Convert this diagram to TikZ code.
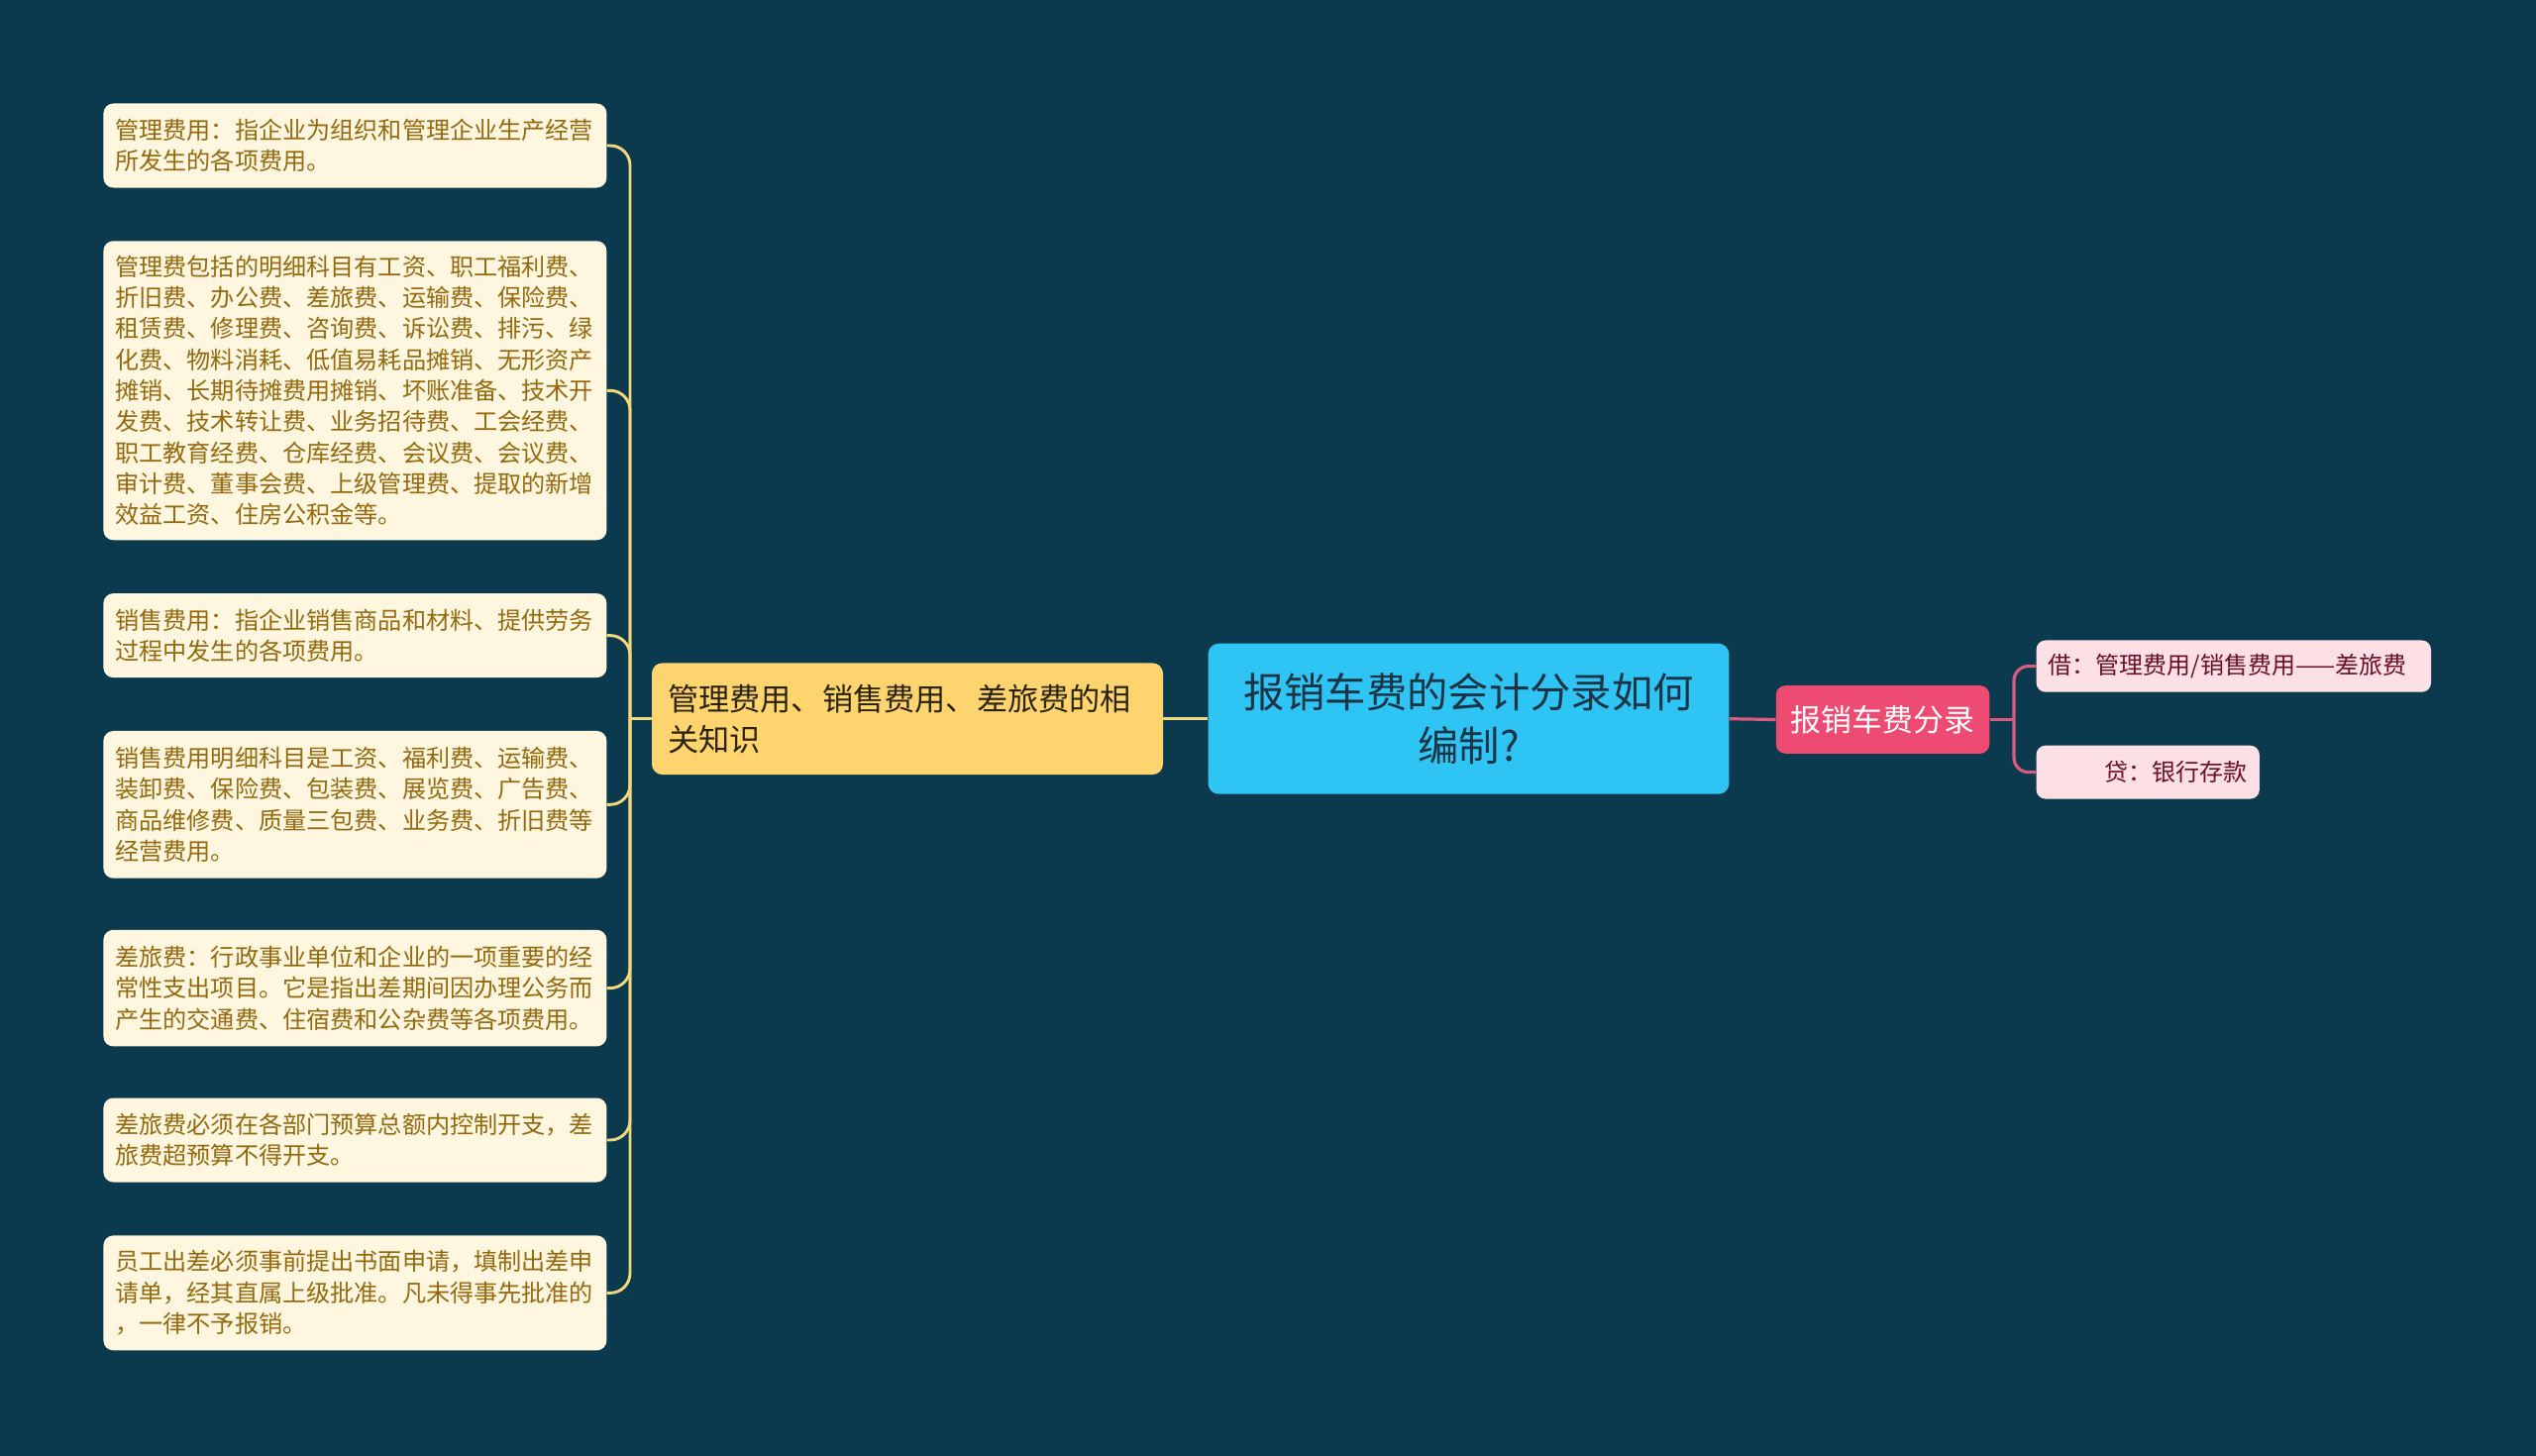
\documentclass[tikz,border=0pt]{standalone}
\usepackage{fontspec}
\setmainfont{Noto Sans CJK SC}
\definecolor{bgc}{HTML}{0B3A4E}
\definecolor{leafc}{HTML}{FEF6DE}
\definecolor{leaftxt}{HTML}{94690F}
\definecolor{yline}{HTML}{F3D77C}
\definecolor{yboxc}{HTML}{FED46E}
\definecolor{yboxtxt}{HTML}{2B2410}
\definecolor{bluec}{HTML}{2EC5F4}
\definecolor{bluetxt}{HTML}{1C3445}
\definecolor{pinkc}{HTML}{EE4B73}
\definecolor{pline}{HTML}{D95C80}
\definecolor{rleafc}{HTML}{FDE0E6}
\definecolor{rleaftxt}{HTML}{6B0F24}
\begin{document}
\begin{tikzpicture}[x=0.75pt,y=-0.75pt,
  leaf/.style={fill=leafc, rounded corners=7.5pt, text=leaftxt,
    font=\fontsize{18.1}{23.5}\selectfont, text width=363pt, align=left,
    inner xsep=9pt, inner ysep=0pt, minimum width=381pt},
  rleaf/.style={fill=rleafc, rounded corners=7pt, text=rleaftxt,
    font=\fontsize{18}{22}\selectfont, inner ysep=0pt},
  ybranch/.style={draw=yline, line width=2.2pt, rounded corners=15pt},
  pbranch/.style={draw=pline, line width=2.4pt, rounded corners=11pt}]
\fill[bgc] (0,0) rectangle (2560,1470);
\useasboundingbox (0,0) rectangle (2560,1470);

% central
\node[fill=bluec, rounded corners=8pt, text=bluetxt, minimum width=394.3pt, minimum height=114pt,
  font=\fontsize{31}{40.5}\selectfont, align=center, inner sep=0pt] (c) at (1482.5,725.7)
  {报销车费的会计分录如何\\编制?};

% yellow topic
\node[fill=yboxc, rounded corners=8pt, text=yboxtxt, minimum width=387pt, minimum height=84.5pt,
  text width=363pt, inner xsep=12pt, align=left, font=\fontsize{23.4}{30.6}\selectfont] (ym) at (916,725.7)
  {管理费用、销售费用、差旅费的相\\关知识};

% pink topic
\node[fill=pinkc, rounded corners=7pt, text=white, minimum width=161.6pt, minimum height=51.4pt,
  inner sep=0pt, font=\fontsize{23.2}{26}\selectfont] (pk) at (1900.5,726.5) {报销车费分录};

% left leaves
\node[leaf, minimum height=63.75pt] (l1) at (358.4,147) {管理费用：指企业为组织和管理企业生产经营\\所发生的各项费用。};
\node[leaf, minimum height=226.5pt] (l2) at (358.4,394.3) {管理费包括的明细科目有工资、职工福利费、\\折旧费、办公费、差旅费、运输费、保险费、\\租赁费、修理费、咨询费、诉讼费、排污、绿\\化费、物料消耗、低值易耗品摊销、无形资产\\摊销、长期待摊费用摊销、坏账准备、技术开\\发费、技术转让费、业务招待费、工会经费、\\职工教育经费、仓库经费、会议费、会议费、\\审计费、董事会费、上级管理费、提取的新增\\效益工资、住房公积金等。};
\node[leaf, minimum height=63.75pt] (l3) at (358.4,641.6) {销售费用：指企业销售商品和材料、提供劳务\\过程中发生的各项费用。};
\node[leaf, minimum height=111.5pt] (l4) at (358.4,812.3) {销售费用明细科目是工资、福利费、运输费、\\装卸费、保险费、包装费、展览费、广告费、\\商品维修费、质量三包费、业务费、折旧费等\\经营费用。};
\node[leaf, minimum height=88.2pt] (l5) at (358.4,997.6) {差旅费：行政事业单位和企业的一项重要的经\\常性支出项目。它是指出差期间因办理公务而\\产生的交通费、住宿费和公杂费等各项费用。};
\node[leaf, minimum height=63.75pt] (l6) at (358.4,1151) {差旅费必须在各部门预算总额内控制开支，差\\旅费超预算不得开支。};
\node[leaf, minimum height=87pt] (l7) at (358.4,1305.4) {员工出差必须事前提出书面申请，填制出差申\\请单，经其直属上级批准。凡未得事先批准的\\，一律不予报销。};

% right leaves
\node[rleaf, minimum width=298.8pt, minimum height=39.2pt, text width=280.8pt, inner xsep=9pt, align=left] (r1) at (2254.8,672.6) {借：管理费用/销售费用——差旅费};
\node[rleaf, minimum width=169pt, minimum height=40.4pt, text width=151pt, inner xsep=9pt, align=right] (r2) at (2168.2,779.6) {贷：银行存款};

% connectors
\coordinate (ybus) at (636,725.7);
\coordinate (pbus) at (2033,726.5);
\draw[ybranch] (c.west) -- (ym.east);
\draw[ybranch] (ym.west) -- (ybus);
\foreach \n in {l1,l2,l3,l4,l5,l6,l7}{
  \draw[ybranch] (ybus) |- (\n.east);
}
\draw[pbranch] (c.east) -- (pk.west);
\draw[pbranch] (pk.east) -- (pbus);
\draw[pbranch] (pbus) |- (r1.west);
\draw[pbranch] (pbus) |- (r2.west);
\end{tikzpicture}
\end{document}
